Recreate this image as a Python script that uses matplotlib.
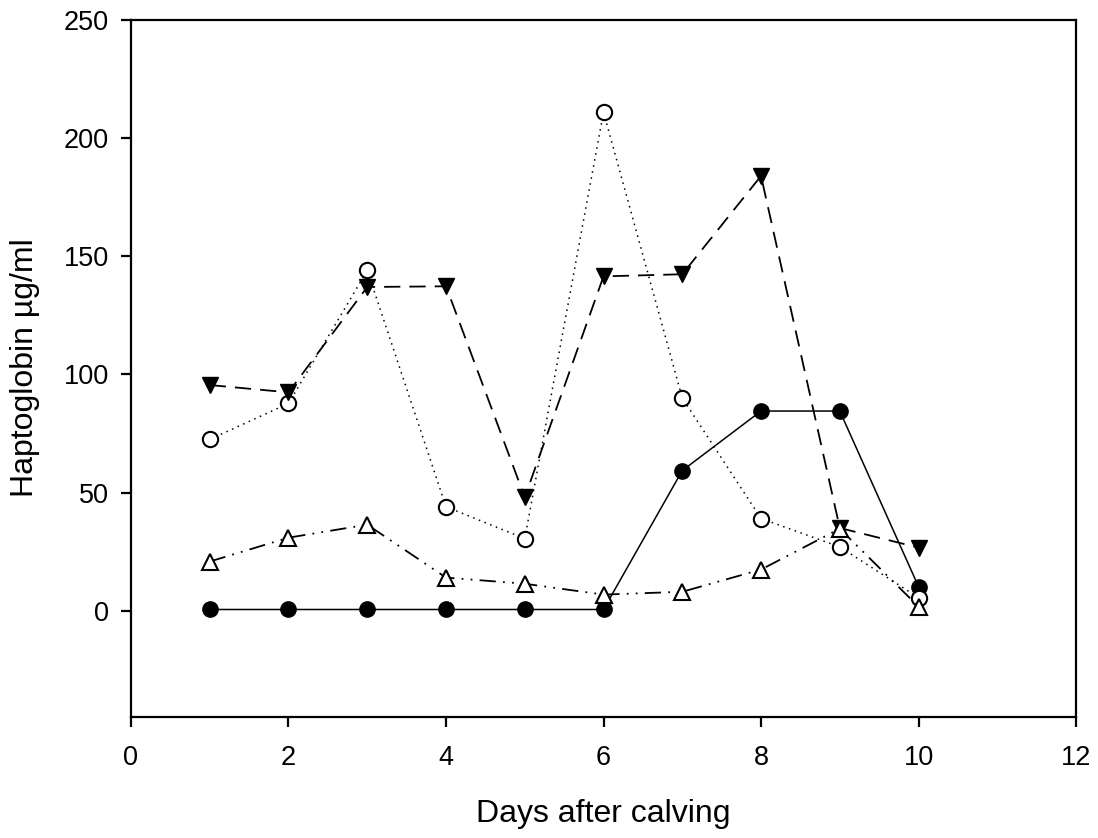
import matplotlib.pyplot as plt

plt.rcParams['font.family'] = ['Liberation Sans', 'DejaVu Sans']

days = [1, 2, 3, 4, 5, 6, 7, 8, 9, 10]

# four animals
filled_circle = [0.5, 0.5, 0.5, 0.5, 0.5, 0.5, 59.3, 84.5, 84.5, 10.2]
open_circle = [72.5, 87.7, 144.0, 44.0, 30.5, 211.0, 90.0, 39.0, 27.0, 5.5]
tri_down = [95.5, 92.4, 137.0, 137.3, 48.0, 141.5, 142.4, 184.0, 35.0, 26.7]
tri_up = [20.8, 30.9, 36.4, 14.0, 11.4, 6.8, 8.0, 17.4, 34.7, 1.7]

xticks = [0, 2, 4, 6, 8, 10, 12]
yticks = [0, 50, 100, 150, 200, 250]


def generate_plot():
    fig = plt.figure(figsize=(10.98, 8.38), dpi=100)
    ax = fig.add_axes([0.1193, 0.1444, 0.8607, 0.8317])

    lw = 1.1
    ax.plot(days, filled_circle, color='black', linestyle='-', linewidth=lw,
            marker='o', markersize=11, markerfacecolor='black', markeredgecolor='black')
    ax.plot(days, open_circle, color='black', linestyle=(0, (1, 3)), linewidth=lw,
            marker='o', markersize=11, markerfacecolor='white', markeredgecolor='black',
            markeredgewidth=1.5)
    ax.plot(days, tri_down, color='black', linestyle=(0, (9, 5)), linewidth=1.3,
            marker='v', markersize=12, markerfacecolor='black', markeredgecolor='black')
    ax.plot(days, tri_up, color='black', linestyle=(0, (9, 4, 1, 4, 1, 4)), linewidth=1.3,
            marker='^', markersize=12, markerfacecolor='white', markeredgecolor='black',
            markeredgewidth=1.5)

    ax.set_xlim(0, 12)
    ax.set_ylim(-45, 250)
    ax.set_xticks(xticks)
    ax.set_yticks(yticks)

    for s in ax.spines.values():
        s.set_linewidth(1.6)
    ax.tick_params(direction='out', length=7, width=1.6, labelsize=19.5, pad=9,
                   top=False, right=False)
    ax.tick_params(axis='x', pad=13)

    ax.set_xlabel('Days after calving', fontsize=23)
    ax.xaxis.set_label_coords(0.5, -0.118)
    fig.text(25 / 1098, 0.5615, 'Haptoglobin \u00b5g/ml', fontsize=23,
             rotation=90, ha='center', va='center')

    fig.savefig('out.png', dpi=100)


if __name__ == '__main__':
    generate_plot()
